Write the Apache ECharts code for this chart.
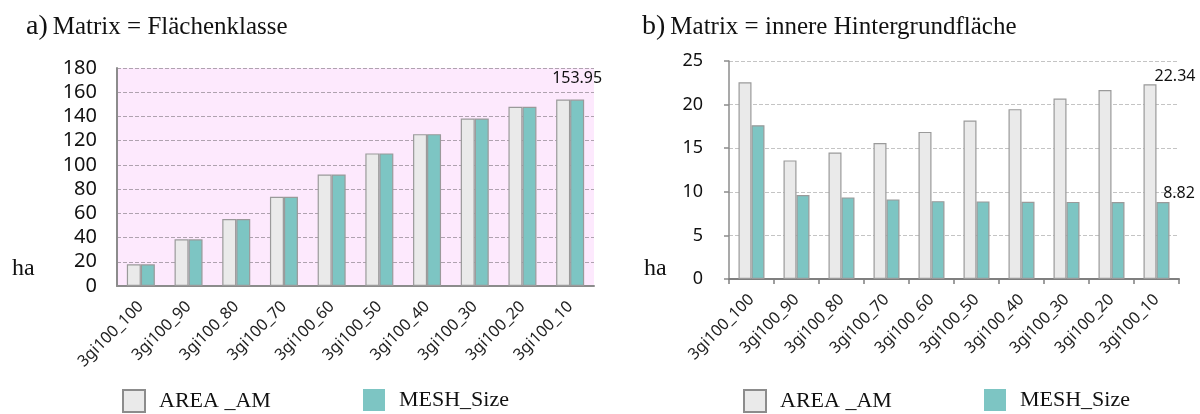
<!DOCTYPE html>
<html>
<head>
<meta charset="utf-8">
<script src="https://cdn.jsdelivr.net/npm/echarts@6/dist/echarts.min.js"></script>
<style>html,body{margin:0;padding:0;background:#fff}#c{width:1200px;height:414px}</style>
</head>
<body>
<div id="c"></div>
<script>
// ---- data ----
const categories = ['3gi100_100','3gi100_90','3gi100_80','3gi100_70','3gi100_60','3gi100_50','3gi100_40','3gi100_30','3gi100_20','3gi100_10'];
const areaA = [17.9, 38.5, 55.3, 73.7, 92.1, 109.5, 125.4, 138.3, 148.0, 153.95];
const meshA = [17.9, 38.5, 55.3, 73.7, 92.1, 109.5, 125.4, 138.3, 148.0, 153.95];
const areaB = [22.55, 13.6, 14.5, 15.6, 16.87, 18.17, 19.48, 20.7, 21.66, 22.34];
const meshB = [17.64, 9.62, 9.36, 9.13, 8.93, 8.9, 8.86, 8.84, 8.83, 8.82];
const ticksA = [0, 20, 40, 60, 80, 100, 120, 140, 160, 180];
const ticksB = [0, 5, 10, 15, 20, 25];
const seriesNames = ['AREA _AM', 'MESH_Size'];
const titleA = ['a)', 'Matrix = Flächenklasse'];
const titleB = ['b)', 'Matrix = innere Hintergrundfläche'];
const unitLabel = 'ha';

const GREY = '#EAEAEA', TEAL = '#7DC5C3', BORDER = '#9A9A9A';
const SERIF = '"Liberation Serif", serif';
const SANS = '"Noto Sans", sans-serif';

function lastLabel(vals, labelCfg) {
  return vals.map((v, i) => i === vals.length - 1 ? { value: v, label: Object.assign({ show: true, fontFamily: SANS, fontSize: 16, color: '#111' }, labelCfg) } : v);
}

const chart = echarts.init(document.getElementById('c'), null, { renderer: 'canvas' });

function titleObj(t, left) {
  return {
    left: left, top: 10, padding: 0,
    text: '{a|' + t[0] + '} {t|' + t[1] + '}',
    textStyle: {
      fontWeight: 'normal',
      rich: {
        a: { fontFamily: SERIF, fontSize: 28, fontWeight: 'normal', color: '#111', lineHeight: 34 },
        t: { fontFamily: SERIF, fontSize: 25, fontWeight: 'normal', color: '#111', lineHeight: 34 }
      }
    }
  };
}

function legendObj(name, left, bordered) {
  return {
    left: left, top: 389, padding: 0, itemWidth: 22, itemHeight: 22, itemGap: 0,
    icon: 'rect',
    data: [{ name: name, itemStyle: bordered ? { color: GREY, borderColor: '#8C8C8C', borderWidth: 2 } : { color: TEAL, borderWidth: 0 } }],
    textStyle: { fontFamily: SERIF, fontSize: 22, color: '#111', padding: [0, 0, 0, 9] }
  };
}

const option = {
  animation: false,
  title: [titleObj(titleA, 26), titleObj(titleB, 642)],
  legend: [
    legendObj(seriesNames[0], 122, true),
    legendObj(seriesNames[1], 363, false),
    legendObj(seriesNames[0], 743, true),
    legendObj(seriesNames[1], 984, false)
  ],
  grid: [
    { left: 117, right: 606, top: 68, bottom: 128, show: true, backgroundColor: '#FDE9FD', borderWidth: 0 },
    { left: 729, right: 21, top: 61, bottom: 135 }
  ],
  xAxis: [
    {
      gridIndex: 0, type: 'category', data: categories,
      axisLine: { lineStyle: { color: '#8C8C8C', width: 2 } },
      axisTick: { show: false },
      axisLabel: { rotate: 45, margin: 18, fontFamily: SANS, fontSize: 16, color: '#222', interval: 0 }
    },
    {
      gridIndex: 1, type: 'category', data: categories,
      axisLine: { lineStyle: { color: '#7F7F7F', width: 2 } },
      axisTick: { show: true, length: 5, lineStyle: { color: '#7F7F7F', width: 1.5 } },
      axisLabel: { rotate: 45, margin: 18, fontFamily: SANS, fontSize: 16, color: '#222', interval: 0 }
    }
  ],
  yAxis: [
    {
      gridIndex: 0, type: 'value', min: ticksA[0], max: ticksA[ticksA.length - 1], interval: ticksA[1] - ticksA[0],
      axisLine: { show: true, lineStyle: { color: '#8C8C8C', width: 2 } },
      axisTick: { show: false },
      splitLine: { show: true, lineStyle: { color: '#AFA2AF', type: 'dashed', width: 1 } },
      axisLabel: { margin: 20, fontFamily: SANS, fontSize: 20, color: '#111' }
    },
    {
      gridIndex: 1, type: 'value', min: ticksB[0], max: ticksB[ticksB.length - 1], interval: ticksB[1] - ticksB[0],
      axisLine: { show: true, lineStyle: { color: '#8C8C8C', width: 1.5 } },
      axisTick: { show: true, length: 5, lineStyle: { color: '#8C8C8C', width: 1.5 } },
      splitLine: { show: true, lineStyle: { color: '#C4C4C4', type: 'dashed', width: 1 } },
      axisLabel: { margin: 26, fontFamily: SANS, fontSize: 18, color: '#111' }
    }
  ],
  series: [
    { name: seriesNames[0], type: 'bar', xAxisIndex: 0, yAxisIndex: 0, barWidth: 14, barGap: '0%',
      itemStyle: { color: GREY, borderColor: BORDER, borderWidth: 1.2 }, data: areaA },
    { name: seriesNames[1], type: 'bar', xAxisIndex: 0, yAxisIndex: 0, barWidth: 14, barGap: '0%',
      itemStyle: { color: TEAL, borderColor: BORDER, borderWidth: 1.2 },
      data: lastLabel(meshA, { position: 'top', offset: [0, -8] }) },
    { name: seriesNames[0], type: 'bar', xAxisIndex: 1, yAxisIndex: 1, barWidth: 13, barGap: '0%',
      itemStyle: { color: GREY, borderColor: BORDER, borderWidth: 1.2 },
      data: lastLabel(areaB, { position: 'top', offset: [25, 5] }) },
    { name: seriesNames[1], type: 'bar', xAxisIndex: 1, yAxisIndex: 1, barWidth: 13, barGap: '0%',
      itemStyle: { color: TEAL, borderColor: BORDER, borderWidth: 1.2 },
      data: lastLabel(meshB, { position: 'top', offset: [16, 4] }) }
  ],
  graphic: [
    { type: 'text', left: 12, top: 257, style: { text: unitLabel, font: '24px "Liberation Serif", serif', fill: '#111' } },
    { type: 'text', left: 644, top: 257, style: { text: unitLabel, font: '24px "Liberation Serif", serif', fill: '#111' } }
  ]
};
chart.setOption(option);
</script>
</body>
</html>
